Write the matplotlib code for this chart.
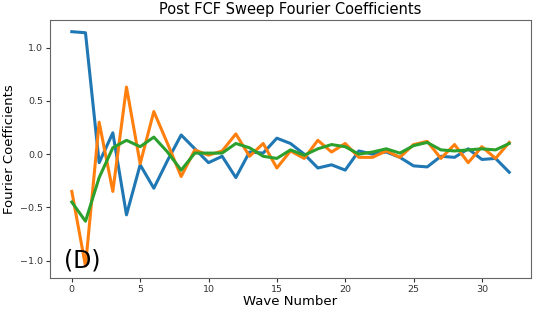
import numpy as np
import matplotlib
matplotlib.use("Agg")
import matplotlib.pyplot as plt

# wave numbers 0..32
waves = list(range(33))

# coefficients
coef_blue = [1.15, 1.14, -0.08, 0.20, -0.57, -0.10, -0.32, -0.06, 0.18, 0.05,
             -0.08, -0.02, -0.22, 0.02, 0.01, 0.15, 0.10, 0.00, -0.13, -0.10,
             -0.15, 0.03, 0.00, 0.02, -0.03, -0.11, -0.12, -0.02, -0.03, 0.05,
             -0.05, -0.04, -0.17]
coef_orange = [-0.35, -1.05, 0.30, -0.35, 0.63, -0.09, 0.40, 0.10, -0.21, 0.04,
               -0.01, 0.03, 0.19, -0.02, 0.10, -0.13, 0.03, -0.04, 0.13, 0.02,
               0.10, -0.03, -0.03, 0.03, -0.03, 0.09, 0.12, -0.04, 0.09, -0.08,
               0.07, -0.04, 0.11]
coef_green = [-0.45, -0.63, -0.22, 0.06, 0.13, 0.07, 0.16, 0.02, -0.15, 0.01,
              0.01, 0.01, 0.10, 0.06, -0.02, -0.04, 0.04, -0.01, 0.05, 0.09,
              0.07, 0.00, 0.02, 0.05, 0.01, 0.08, 0.11, 0.04, 0.03, 0.04,
              0.05, 0.04, 0.10]

fig = plt.figure(figsize=(5.37, 3.12), dpi=100)
ax = fig.add_axes([0.093, 0.110, 0.896, 0.826])

ax.plot(waves, coef_blue, color="#1f77b4", lw=2.2)
ax.plot(waves, coef_orange, color="#ff7f0e", lw=2.2)
ax.plot(waves, coef_green, color="#2ca02c", lw=2.2)

ax.set_title("Post FCF Sweep Fourier Coefficients", fontsize=10.5, pad=4)
ax.set_xlabel("Wave Number", fontsize=9.5, labelpad=1)
ax.set_ylabel("Fourier Coefficients", fontsize=9.5, labelpad=3)
ax.tick_params(labelsize=6.8, length=3, pad=2, colors="#333333")
ax.set_yticks([-1.0, -0.5, 0.0, 0.5, 1.0])

ax.text(-0.6, -1.0, "(D)", fontsize=17, va="center", ha="left")

for s in ax.spines.values():
    s.set_color("#666666")

fig.savefig("out.png", dpi=100)
